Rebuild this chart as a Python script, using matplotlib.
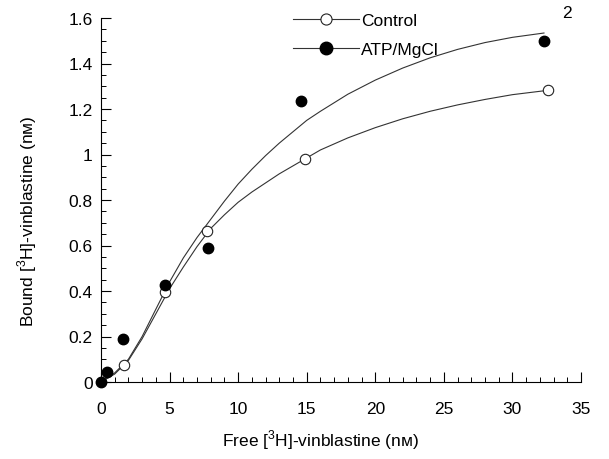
import matplotlib
matplotlib.use("Agg")
import matplotlib.pyplot as plt
from matplotlib.lines import Line2D
from matplotlib.ticker import MultipleLocator

plt.rcParams['font.family'] = ['Liberation Sans', 'DejaVu Sans']
plt.rcParams['mathtext.fontset'] = 'custom'
plt.rcParams['mathtext.rm'] = 'Liberation Sans'

# Data points
ctrl_x = [1.7, 4.7, 7.74, 14.9, 32.6]
ctrl_y = [0.075, 0.394, 0.665, 0.98, 1.285]
atp_x = [0, 0.46, 1.6, 4.7, 7.8, 14.6, 32.3]
atp_y = [0, 0.045, 0.19, 0.427, 0.588, 1.237, 1.50]

# Fitted curves
ctrl_cx = [0, 1, 2, 3, 4, 5, 6, 7, 8, 9, 10, 11, 12, 13, 14, 15, 16, 18, 20, 22, 24, 26, 28, 30, 32.3]
ctrl_cy = [0, 0.035, 0.095, 0.19, 0.30, 0.41, 0.505, 0.595, 0.675, 0.735, 0.79, 0.835, 0.875,
           0.915, 0.95, 0.985, 1.02, 1.073, 1.118, 1.157, 1.19, 1.218, 1.242, 1.263, 1.28]
atp_cx = [0, 1, 2, 3, 4, 5, 6, 7, 8, 9, 10, 11, 12, 13, 14, 15, 16, 18, 20, 22, 24, 26, 28, 30, 32.3]
atp_cy = [0, 0.04, 0.10, 0.20, 0.32, 0.44, 0.545, 0.635, 0.715, 0.795, 0.87, 0.935, 0.995,
          1.05, 1.10, 1.15, 1.19, 1.265, 1.327, 1.38, 1.425, 1.462, 1.492, 1.515, 1.534]

xticks = [0, 5, 10, 15, 20, 25, 30, 35]
xticklabels = ['0', '5', '10', '15', '20', '25', '30', '35']
yticks = [0, 0.2, 0.4, 0.6, 0.8, 1.0, 1.2, 1.4, 1.6]
yticklabels = ['0', '0.2', '0.4', '0.6', '0.8', '1', '1.2', '1.4', '1.6']

W, H = 609, 460
fig = plt.figure(figsize=(W / 100, H / 100), dpi=100)
ax = fig.add_axes([101 / W, 1 - 383 / H, 480 / W, 364 / H])

line_col = '#333333'
ax.plot(ctrl_cx, ctrl_cy, color=line_col, lw=0.8, clip_on=False)
ax.plot(atp_cx, atp_cy, color=line_col, lw=0.8, clip_on=False)
ax.plot(ctrl_x, ctrl_y, 'o', ms=7.5, mfc='white', mec='#222222', mew=0.8, clip_on=False, zorder=3)
ax.plot(atp_x, atp_y, 'o', ms=7.5, mfc='black', mec='black', clip_on=False, zorder=4)

ax.set_xlim(0, 35)
ax.set_ylim(0, 1.6)
ax.set_xticks(xticks)
ax.set_xticklabels(xticklabels)
ax.set_yticks(yticks)
ax.set_yticklabels(yticklabels)
ax.xaxis.set_minor_locator(MultipleLocator(1))
ax.yaxis.set_minor_locator(MultipleLocator(0.05))
for s in ['top', 'right']:
    ax.spines[s].set_visible(False)
for s in ['left', 'bottom']:
    ax.spines[s].set_linewidth(0.8)
ax.tick_params(axis='both', which='major', direction='in', length=7, width=0.8, labelsize=12.5)
ax.tick_params(axis='both', which='minor', direction='in', length=3.5, width=0.7)
ax.tick_params(axis='x', which='major', pad=14)
ax.tick_params(axis='y', which='major', pad=6)

ax.set_xlabel(r'Free [$^{\mathregular{3}}$H]-vinblastine (nᴍ)', fontsize=12.5)
ax.xaxis.set_label_coords(0.458, -0.125)
ax.xaxis.label.set_va('top')
ax.set_ylabel(r'Bound [$^{\mathregular{3}}$H]-vinblastine (nᴍ)', fontsize=12.5)
ax.yaxis.set_label_coords(-0.13, 0.445)

handles = [
    Line2D([], [], color=line_col, lw=0.8, marker='o', ms=8, mfc='white', mec='#222222', mew=0.8),
    Line2D([], [], color=line_col, lw=0.8, marker='o', ms=9, mfc='black', mec='black'),
]
leg = fig.legend(handles, ['Control', 'ATP/MgCl'], frameon=False, fontsize=12.5,
                 loc='upper left', bbox_to_anchor=(293 / W, 1 - 14 / H),
                 borderpad=0, borderaxespad=0, handlelength=3.8, handletextpad=0.1,
                 labelspacing=0.78)

fig.text(567 / W, 1 - 14 / H, '2', fontsize=12.5, ha='center', va='center')

fig.savefig('out.png', dpi=100)
